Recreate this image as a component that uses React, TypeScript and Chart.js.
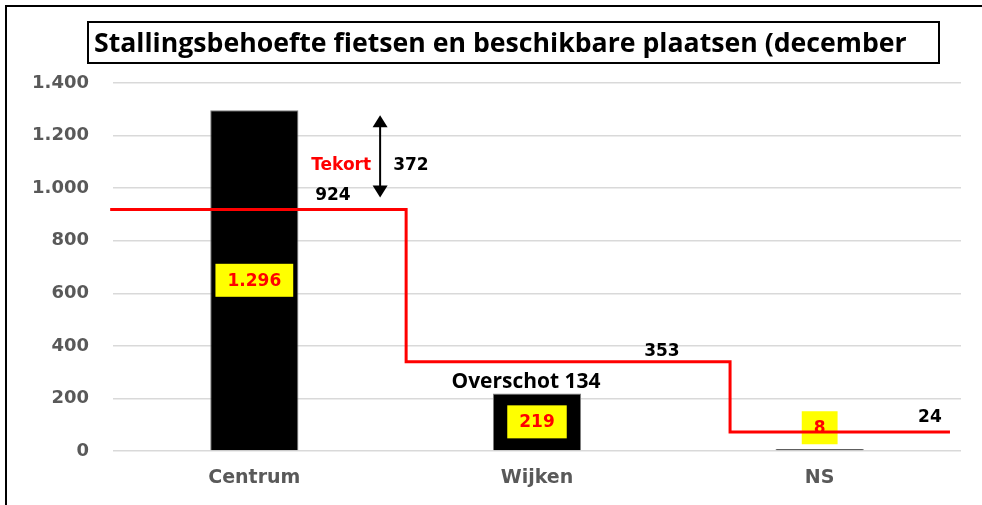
import React, { useEffect, useRef } from 'react';
import { Chart, registerables } from 'chart.js';

Chart.register(...registerables);

// ---- data ----
const categories = ['Centrum', 'Wijken', 'NS'];
const behoefte = [1296, 219, 8]; // bars (stallingsbehoefte)
const capacityLevels = [919, 340, 72]; // red step line as drawn
const capacityEdges = [-0.01, 1.037, 2.183, 2.961]; // step boundaries in category units
const capacityLabels = ['924', '353', '24'];
const yTicks = [0, 200, 400, 600, 800, 1000, 1200, 1400];
const titleText = 'Stallingsbehoefte fietsen en beschikbare plaatsen (december';
const tekortLabel = 'Tekort';
const tekortValue = '372';
const overschotLabel = 'Overschot 134';

const fmtNl = (v: number) => String(v).replace(/\B(?=(\d{3})+(?!\d))/g, '.');

const lineData: { x: number; y: number }[] = [];
capacityLevels.forEach((lv, i) => {
  lineData.push({ x: capacityEdges[i], y: lv });
  lineData.push({ x: capacityEdges[i + 1], y: lv });
});

const GRAY = '#595959';
const BOLD_FAMILY = '"DejaVu Sans", Verdana, sans-serif';
const TITLE_FAMILY = '"Open Sans", "Noto Sans", sans-serif';

function fitSize(ctx: CanvasRenderingContext2D, text: string, family: string, target: number) {
  ctx.font = `bold 20px ${family}`;
  const w = ctx.measureText(text).width;
  return (20 * target) / w;
}

const decorPlugin = {
  id: 'decor',
  afterDatasetDraw(chart: any, args: any) {
    if (args.index !== 1) return;
    const ctx: CanvasRenderingContext2D = chart.ctx;
    const meta = chart.getDatasetMeta(1);
    ctx.save();
    meta.data.forEach((bar: any, i: number) => {
      const text = fmtNl(behoefte[i]);
      ctx.font = `bold 17px ${BOLD_FAMILY}`;
      const w = ctx.measureText(text).width + 24;
      const h = 33;
      const mid = (bar.y + bar.base) / 2;
      const cy = Math.min(mid, bar.base - 6 - h / 2);
      ctx.fillStyle = '#ffff00';
      ctx.fillRect(bar.x - w / 2, cy - h / 2, w, h);
      ctx.fillStyle = '#ff0000';
      ctx.textAlign = 'center';
      ctx.textBaseline = 'middle';
      ctx.fillText(text, bar.x, cy + 1);
    });
    ctx.restore();
  },
  afterDraw(chart: any) {
    const ctx: CanvasRenderingContext2D = chart.ctx;
    const xs = chart.scales.x2;
    const ys = chart.scales.y;
    ctx.save();
    // outer frame (top + left)
    ctx.strokeStyle = '#000';
    ctx.lineWidth = 2;
    ctx.beginPath();
    ctx.moveTo(6, 505);
    ctx.lineTo(6, 6);
    ctx.lineTo(982, 6);
    ctx.stroke();

    // title box
    ctx.lineWidth = 2;
    ctx.strokeRect(88, 22, 851, 41);
    const ts = fitSize(ctx, titleText, TITLE_FAMILY, 813);
    ctx.font = `bold ${ts}px ${TITLE_FAMILY}`;
    ctx.fillStyle = '#000';
    ctx.textAlign = 'left';
    ctx.textBaseline = 'middle';
    ctx.fillText(titleText, 94, 44);

    // annotations
    const txt = (t: string, xv: number, yv: number, color: string, font: string) => {
      ctx.font = font;
      ctx.fillStyle = color;
      ctx.textAlign = 'center';
      ctx.textBaseline = 'middle';
      ctx.fillText(t, xs.getPixelForValue(xv), ys.getPixelForValue(yv));
    };
    const f17 = `bold 17px ${BOLD_FAMILY}`;
    txt(tekortLabel, 0.807, 1087, '#ff0000', f17);
    txt(tekortValue, 1.054, 1087, '#000', f17);
    txt(capacityLabels[0], 0.778, 973, '#000', f17);
    txt(capacityLabels[1], 1.942, 378, '#000', f17);
    txt(capacityLabels[2], 2.89, 126, '#000', f17);
    const os = fitSize(ctx, overschotLabel, TITLE_FAMILY, 149);
    txt(overschotLabel, 1.461, 263, '#000', `bold ${os}px ${TITLE_FAMILY}`);

    // double arrow between demand and capacity in Centrum
    const ax = xs.getPixelForValue(0.945);
    const yTop = ys.getPixelForValue(behoefte[0]) + 5;
    const yBot = ys.getPixelForValue(capacityLevels[0]) - 12;
    const hh = 12;
    const hw = 7.5;
    ctx.strokeStyle = '#000';
    ctx.fillStyle = '#000';
    ctx.lineWidth = 2;
    ctx.beginPath();
    ctx.moveTo(ax, yTop + hh - 1);
    ctx.lineTo(ax, yBot - hh + 1);
    ctx.stroke();
    ctx.beginPath();
    ctx.moveTo(ax, yTop);
    ctx.lineTo(ax - hw, yTop + hh);
    ctx.lineTo(ax + hw, yTop + hh);
    ctx.closePath();
    ctx.fill();
    ctx.beginPath();
    ctx.moveTo(ax, yBot);
    ctx.lineTo(ax - hw, yBot - hh);
    ctx.lineTo(ax + hw, yBot - hh);
    ctx.closePath();
    ctx.fill();
    ctx.restore();
  },
};

export default function App() {
  const ref = useRef<HTMLCanvasElement | null>(null);
  useEffect(() => {
    if (!ref.current) return;
    const chart = new Chart(ref.current, {
      type: 'bar',
      data: {
        labels: categories,
        datasets: [
          {
            type: 'line',
            label: 'Beschikbare plaatsen',
            data: lineData as any,
            xAxisID: 'x2',
            yAxisID: 'y',
            borderColor: '#ff0000',
            borderWidth: 3,
            pointRadius: 0,
            fill: false,
            tension: 0,
            clip: false as any,
          } as any,
          {
            type: 'bar',
            label: 'Stallingsbehoefte',
            data: behoefte,
            xAxisID: 'x',
            yAxisID: 'y',
            backgroundColor: '#000000',
            borderColor: '#7f7f7f',
            borderWidth: 1,
            grouped: false,
            categoryPercentage: 1,
            barPercentage: 0.312,
          } as any,
        ],
      },
      options: {
        responsive: false,
        animation: false,
        devicePixelRatio: 1,
        layout: { padding: { left: 5, right: 21, top: 83, bottom: 0 } },
        plugins: {
          legend: { display: false },
          tooltip: { enabled: false },
          title: { display: false },
        },
        scales: {
          x: {
            type: 'category',
            offset: true,
            grid: { display: false, drawTicks: false },
            border: { display: false },
            ticks: {
              color: GRAY,
              font: { family: BOLD_FAMILY, weight: 'bold', size: 19 },
              padding: 16,
            },
            afterFit: (s: any) => {
              s.height = 54;
            },
          },
          x2: {
            type: 'linear',
            min: 0,
            max: 3,
            offset: false,
            display: false,
          },
          y: {
            min: 0,
            max: 1400,
            afterBuildTicks: (s: any) => {
              s.ticks = yTicks.map((v) => ({ value: v }));
            },
            ticks: {
              callback: (v: any) => fmtNl(Number(v)),
              color: GRAY,
              font: { family: BOLD_FAMILY, weight: 'bold', size: 18 },
              padding: 24,
            },
            grid: { color: '#d9d9d9', lineWidth: 1.5, drawTicks: false },
            border: { display: false },
            afterFit: (s: any) => {
              s.width = 108;
            },
          },
        } as any,
      },
      plugins: [decorPlugin],
    });
    return () => chart.destroy();
  }, []);
  return (
    <div style={{ position: 'absolute', left: 0, top: 0, width: 982, height: 505, background: '#fff' }}>
      <canvas ref={ref} width={982} height={505} style={{ display: 'block' }} />
    </div>
  );
}
